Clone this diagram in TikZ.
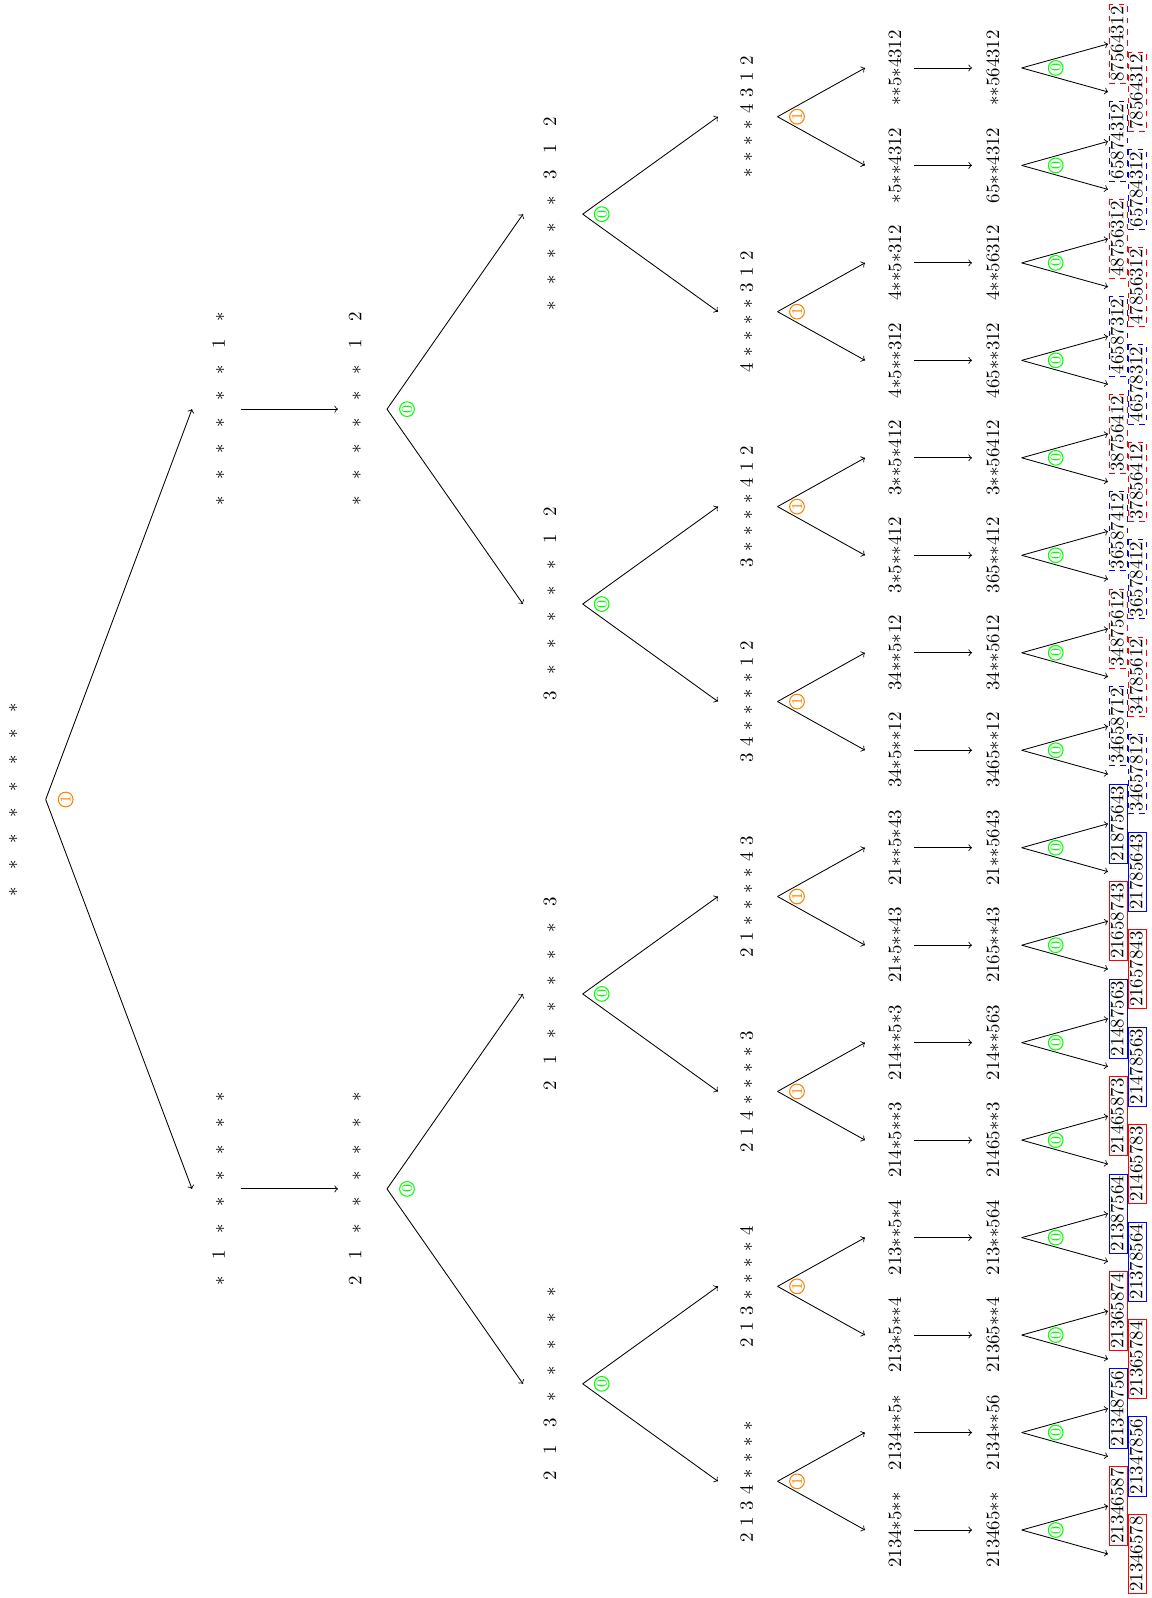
\documentclass[tikz,border=0pt]{standalone}
\usetikzlibrary{calc}
\makeatletter
\newcommand\spreadseq[2]{\@tfor\sq@c:=#2\do{\makebox[#1]{\if*\sq@c$\ast$\else\sq@c\fi}}}
\makeatother
\newcommand\spreadx[2]{\edef\sqtmp{\noexpand\spreadseq{#1}{#2}}\sqtmp}
\tikzset{
  treeseq/.style={rotate=90, inner sep=0pt},
  treearrow/.style={->, line width=0.45pt},
  zerolab/.style={circle, draw=green, text=green, inner sep=0pt, minimum size=7.8pt, font=\footnotesize, rotate=90, line width=0.55pt},
  onelab/.style={circle, draw=orange, text=orange, inner sep=0pt, minimum size=7.8pt, font=\footnotesize, rotate=90, line width=0.55pt},
  leafbox/.style={rotate=90, inner xsep=1pt, inner ysep=1pt, text height=6.6pt, text depth=1.4pt, line width=0.5pt}
}
\begin{document}
\begin{tikzpicture}[x=0.53pt,y=-0.53pt]
\useasboundingbox (0,0) rectangle (1151,1598);
% root
\node[treeseq] (r) at (13.5,799.5) {\spreadx{13.94pt}{********}};
\coordinate (rv) at ($(r)+(32.2,0)$);
\node[onelab] (rl) at ($(r)+(52.2,0)$) {1};
% level 1
\foreach \s [count=\h from 0] in {*1******,******1*} {
  \pgfmathsetmacro\yy{1188.9-779.76*\h}
  \node[treeseq] (a\h) at (218.7,\yy) {\spreadx{13.94pt}{\s}};
}
% level 2
\foreach \s [count=\h from 0] in {21******,******12} {
  \pgfmathsetmacro\yy{1188.9-779.76*\h}
  \node[treeseq] (b\h) at (355,\yy) {\spreadx{13.94pt}{\s}};
  \coordinate (bv\h) at ($(b\h)+(32,0)$);
  \node[zerolab] (bl\h) at ($(b\h)+(52,0)$) {0};
}
% level 3
\foreach \s [count=\i from 0] in {213*****,21*****3,3*****12,*****312} {
  \pgfmathsetmacro\yy{1383.8-389.88*\i}
  \node[treeseq] (c\i) at (550,\yy) {\spreadx{13.94pt}{\s}};
  \coordinate (cv\i) at ($(c\i)+(32.7,0)$);
  \node[zerolab] (cl\i) at ($(c\i)+(51.7,0)$) {0};
}
% level 4
\foreach \s [count=\j from 0] in {2134****,213****4,214****3,21****43,34****12,3****412,4****312,****4312} {
  \pgfmathsetmacro\yy{1481.3-194.94*\j}
  \node[treeseq] (d\j) at (746.7,\yy) {\spreadx{8.48pt}{\s}};
  \coordinate (dv\j) at ($(d\j)+(30.8,0)$);
  \node[onelab] (dl\j) at ($(d\j)+(50.3,0)$) {1};
}
% level 5
\foreach \s [count=\k from 0] in {2134*5**,2134**5*,213*5**4,213**5*4,214*5**3,214**5*3,21*5**43,21**5*43,34*5**12,34**5*12,3*5**412,3**5*412,4*5**312,4**5*312,*5**4312,**5*4312} {
  \pgfmathsetmacro\yy{1530-97.47*\k}
  \node[treeseq] (e\k) at (895,\yy) {\spreadx{5pt}{\s}};
}
% level 6
\foreach \s [count=\k from 0] in {213465**,2134**56,21365**4,213**564,21465**3,214**563,2165**43,21**5643,3465**12,34**5612,365**412,3**56412,465**312,4**56312,65**4312,**564312} {
  \pgfmathsetmacro\yy{1530-97.47*\k}
  \node[treeseq] (f\k) at (993,\yy) {\spreadx{5pt}{\s}};
  \coordinate (fv\k) at ($(f\k)+(28.7,0)$);
  \node[zerolab] (fl\k) at ($(f\k)+(62.7,0)$) {0};
}
% leaves
\foreach \ia/\ib/\col/\dsh [count=\k from 0] in {
  21346587/21346578/red/solid, 21348756/21347856/blue/solid,
  21365874/21365784/red/solid, 21387564/21378564/blue/solid,
  21465873/21465783/red/solid, 21487563/21478563/blue/solid,
  21658743/21657843/red/solid, 21875643/21785643/blue/solid,
  34658712/34657812/blue/dashed, 34875612/34785612/red/dashed,
  36587412/36578412/blue/dashed, 38756412/37856412/red/dashed,
  46587312/46578312/blue/dashed, 48756312/47856312/red/dashed,
  65874312/65784312/blue/dashed, 87564312/78564312/red/dashed} {
  \node[leafbox, draw=\col, \dsh] (gi\k) at ($(f\k)+(125.5,-24)$) {\ia};
  \node[leafbox, draw=\col, \dsh] (go\k) at ($(f\k)+(144.5,24)$) {\ib};
}
% connectors
\draw[treearrow] (rv) -- ($(a0)+(-26.7,0)$);
\draw[treearrow] (rv) -- ($(a1)+(-26.7,0)$);
\foreach \h in {0,1} {
  \draw[treearrow] ($(a\h)+(22,0)$) -- ($(b\h)+(-17,0)$);
  \pgfmathtruncatemacro\ca{2*\h}
  \pgfmathtruncatemacro\cb{2*\h+1}
  \draw[treearrow] (bv\h) -- ($(c\ca)+(-27,0)$);
  \draw[treearrow] (bv\h) -- ($(c\cb)+(-27,0)$);
}
\foreach \i in {0,...,3} {
  \pgfmathtruncatemacro\ca{2*\i}
  \pgfmathtruncatemacro\cb{2*\i+1}
  \draw[treearrow] (cv\i) -- ($(d\ca)+(-28.7,0)$);
  \draw[treearrow] (cv\i) -- ($(d\cb)+(-28.7,0)$);
}
\foreach \j in {0,...,7} {
  \pgfmathtruncatemacro\ca{2*\j}
  \pgfmathtruncatemacro\cb{2*\j+1}
  \draw[treearrow] (dv\j) -- ($(e\ca)+(-30,0)$);
  \draw[treearrow] (dv\j) -- ($(e\cb)+(-30,0)$);
}
\foreach \k in {0,...,15} {
  \draw[treearrow] ($(e\k)+(19,0)$) -- ($(f\k)+(-21,0)$);
  \draw[treearrow] (fv\k) -- ($(gi\k)+(-10.5,0)$);
  \draw[treearrow] (fv\k) -- ($(go\k)+(-29.5,0)$);
}
\end{tikzpicture}
\end{document}
